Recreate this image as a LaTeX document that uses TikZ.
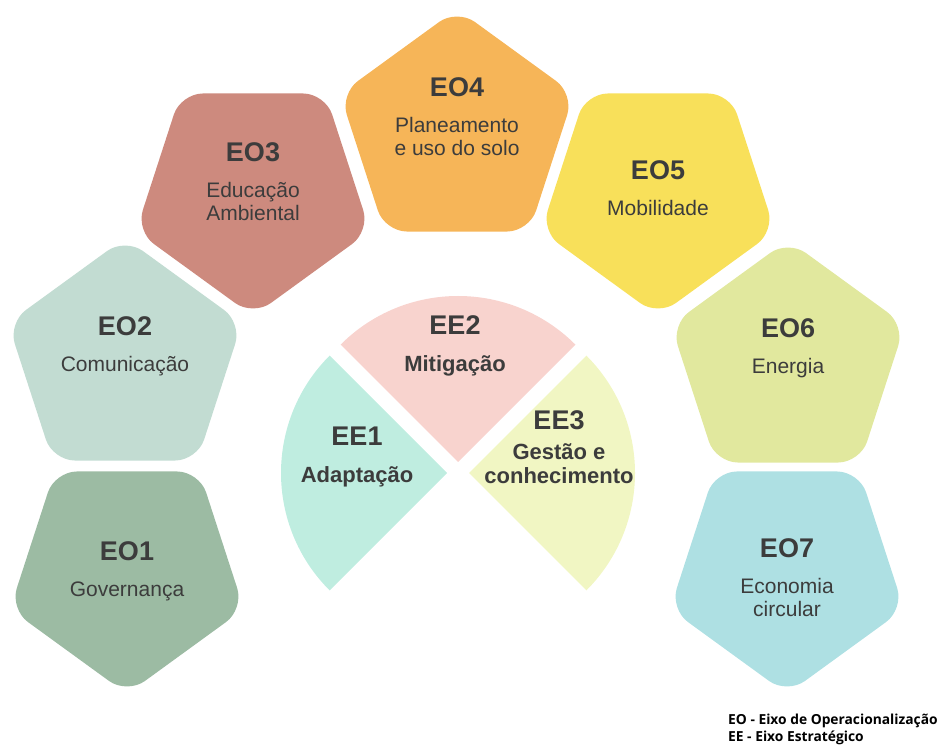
\documentclass[tikz,border=0pt]{standalone}
\usepackage{fontspec}
\setmainfont{Liberation Sans}
\newfontfamily\legendfont{Open Sans}
\usepackage{xcolor}
\usetikzlibrary{shapes.geometric}

\definecolor{govgreen}{HTML}{9CBBA3}
\definecolor{commsage}{HTML}{C2DCD2}
\definecolor{edurose}{HTML}{CD8A7E}
\definecolor{planorange}{HTML}{F6B558}
\definecolor{mobyellow}{HTML}{F8E05A}
\definecolor{energylime}{HTML}{E1E89E}
\definecolor{ecocyan}{HTML}{AEE0E3}
\definecolor{adaptmint}{HTML}{BFEDE0}
\definecolor{mitigpink}{HTML}{F8D3CE}
\definecolor{gestlemon}{HTML}{F1F6C3}
\definecolor{textgray}{HTML}{3C3C3C}

\newcommand{\eohead}[1]{{\bfseries\fontsize{27}{30}\selectfont #1}\\[13pt]}

\begin{document}
\begin{tikzpicture}[
      x=1pt, y=1pt,
      pent/.style={regular polygon, regular polygon sides=5, minimum size=246pt, inner sep=0pt, outer sep=0pt, rounded corners=22pt},
      pentdown/.style={pent, shape border rotate=180},
      eotext/.style={align=center, text=textgray, font=\fontsize{21}{23}\selectfont},
      eetext/.style={align=center, text=textgray, font=\bfseries\fontsize{22}{24}\selectfont}
  ]
  \useasboundingbox (0,0) rectangle (941,747);
  % Operational axes (pentagons)
  \node[pentdown, fill=govgreen] (eo1) at (127,176) {};
  \node[pent, fill=commsage] (eo2) at (125,386) {};
  \node[pentdown, fill=edurose] (eo3) at (253,554) {};
  \node[pent, fill=planorange] (eo4) at (457,615) {};
  \node[pentdown, fill=mobyellow] (eo5) at (658,554) {};
  \node[pent, fill=energylime] (eo6) at (788,384) {};
  \node[pentdown, fill=ecocyan] (eo7) at (787,176) {};
  % Labels
  \node[eotext] (eo1txt) at ([yshift=0pt]eo1.center) {\eohead{EO1}Governança};
  \node[eotext] (eo2txt) at ([yshift=15pt]eo2.center) {\eohead{EO2}Comunicação};
  \node[eotext] (eo3txt) at ([yshift=11pt]eo3.center) {\eohead{EO3}Educação\\Ambiental};
  \node[eotext] (eo4txt) at ([yshift=15pt]eo4.center) {\eohead{EO4}Planeamento\\e uso do solo};
  \node[eotext] (eo5txt) at ([yshift=5pt]eo5.center) {\eohead{EO5}Mobilidade};
  \node[eotext] (eo6txt) at ([yshift=15pt]eo6.center) {\eohead{EO6}Energia};
  \node[eotext] (eo7txt) at ([yshift=-7pt]eo7.center) {\eohead{EO7}Economia\\circular};
  % Strategic axes (sectors)
  \coordinate (pie) at (458,274);
  \fill[adaptmint] ([shift={(180:11)}]pie) -- ++(135:166) arc[start angle=135, end angle=225, radius=166] -- cycle;
  \fill[mitigpink] ([shift={(90:11)}]pie) -- ++(45:166) arc[start angle=45, end angle=135, radius=166] -- cycle;
  \fill[gestlemon] ([shift={(0:11)}]pie) -- ++(-45:166) arc[start angle=-45, end angle=45, radius=166] -- cycle;
  \node[eetext] (ee1) at (357,290) {\eohead{EE1}Adaptação};
  \node[eetext] (ee2) at (455,401) {\eohead{EE2}Mitigação};
  \node[eetext] (ee3) at (559,300) {{\bfseries\fontsize{27}{30}\selectfont EE3}\\[6pt]Gestão e\\conhecimento};
  % Legend
  \node[anchor=north west, align=left, text=black, inner sep=0pt, font=\legendfont\bfseries\fontsize{13.8}{16.5}\selectfont] (legend) at (728,33) {EO - Eixo de Operacionalização\\EE - Eixo Estratégico};
\end{tikzpicture}
\end{document}
